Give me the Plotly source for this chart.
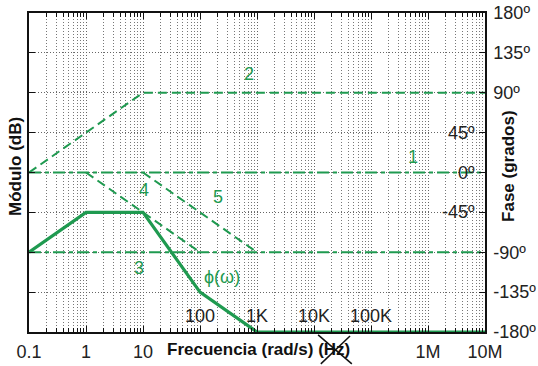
import math
import plotly.graph_objects as go

# ---- data ----
green = "#1f9a50"
line1_x = [0.1, 1e7]; line1_y = [0, 0]
line2_x = [0.1, 10, 1e7]; line2_y = [0, 90, 90]
line3_x = [0.1, 1e7]; line3_y = [-90, -90]
line4_x = [1, 100]; line4_y = [0, -90]
line5_x = [10, 1000]; line5_y = [0, -90]
phi_x = [0.1, 1, 10, 100, 1000, 1e7]
phi_y = [-90, -45, -45, -135, -180, -180]

x_tickvals = [0.1, 1, 10, 100, 1e3, 1e4, 1e5, 1e6, 1e7]
x_ticktext = ["0.1", "1", "10", "", "", "", "", "1M", "10M"]
inner_x_vals = [100, 1e3, 1e4, 1e5]
inner_x_text = ["100", "1K", "10K", "100K"]
y_tickvals = [180, 135, 90, 45, 0, -45, -90, -135, -180]
y_ticktext = ["180º", "135º", "90º", "", "", "", "-90º", "-135º", "-180º"]
inner_y_vals = [45, 0, -45]
inner_y_text = ["45º", "0º", "-45º"]
labels = [("2", 10**2.86, 111), ("1", 10**5.74, 17.5), ("3", 10**0.93, -108), ("4", 10**1.02, -20),
          ("5", 10**2.32, -28), ("ϕ(ω)", 10**2.39, -118)]

minor_vals = [m * 10**e for e in range(-1, 7) for m in range(2, 10)]

fig = go.Figure()
fig.add_trace(go.Scatter(x=line1_x, y=line1_y, mode="lines",
                         line=dict(color=green, width=2, dash="12px,4px,4px,4px")))
fig.add_trace(go.Scatter(x=line2_x, y=line2_y, mode="lines",
                         line=dict(color=green, width=2, dash="9px,5px")))
fig.add_trace(go.Scatter(x=line3_x, y=line3_y, mode="lines",
                         line=dict(color=green, width=2, dash="12px,4px,4px,4px")))
fig.add_trace(go.Scatter(x=line4_x, y=line4_y, mode="lines",
                         line=dict(color=green, width=2, dash="9px,5px")))
fig.add_trace(go.Scatter(x=line5_x, y=line5_y, mode="lines",
                         line=dict(color=green, width=2, dash="9px,5px")))
fig.add_trace(go.Scatter(x=phi_x, y=phi_y, mode="lines",
                         line=dict(color=green, width=3.2)))

ann = []
for v, t in zip(inner_x_vals, inner_x_text):
    ann.append(dict(x=math.log10(v), y=-180, xref="x", yref="y", text=t, showarrow=False,
                    yanchor="bottom", yshift=4, font=dict(size=18, color="#222")))
for v, t in zip(inner_y_vals, inner_y_text):
    ann.append(dict(x=1, y=v, xref="paper", yref="y", text=t, showarrow=False,
                    xanchor="right", xshift=-8, font=dict(size=18, color="#222")))
for t, xv, yv in labels:
    ann.append(dict(x=math.log10(xv), y=yv, xref="x", yref="y", text=t, showarrow=False,
                    font=dict(size=18, color=green)))
ann.append(dict(x=0.504, y=-0.056, xref="paper", yref="paper", text="<b>Frecuencia (rad/s) (Hz)</b>",
                showarrow=False, xanchor="center", yanchor="middle", font=dict(size=17, color="#111")))
ann.append(dict(x=-0.031, y=0.52, xref="paper", yref="paper", text="<b>Módulo (dB)</b>",
                showarrow=False, textangle=-90, xanchor="center", yanchor="middle",
                font=dict(size=17, color="#111")))
ann.append(dict(x=1.050, y=0.52, xref="paper", yref="paper", text="<b>Fase (grados)</b>",
                showarrow=False, textangle=-90, xanchor="center", yanchor="middle",
                font=dict(size=17, color="#111")))

shapes = [
    dict(type="line", xref="paper", yref="paper", x0=0.634, y0=-0.009, x1=0.708, y1=-0.100,
         line=dict(color="#111", width=1.5)),
    dict(type="line", xref="paper", yref="paper", x0=0.704, y0=-0.0125, x1=0.640, y1=-0.100,
         line=dict(color="#111", width=1.5)),
]

fig.update_layout(
    width=538, height=366, showlegend=False,
    margin=dict(l=29, r=53, t=13, b=34, autoexpand=False),
    paper_bgcolor="white", plot_bgcolor="white",
    font=dict(family="Liberation Sans, Arial, sans-serif", size=18, color="#222"),
    annotations=ann, shapes=shapes,
)
fig.update_xaxes(type="log", range=[-1, 7], tickvals=x_tickvals, ticktext=x_ticktext,
                 ticks="inside", ticklen=6, tickcolor="#111", showline=True, linecolor="#111",
                 linewidth=1.5, mirror="ticks", showgrid=True, gridcolor="#666", griddash="1px,2px",
                 gridwidth=1, zeroline=False, ticklabelstandoff=3, automargin=False,
                 minor=dict(tickvals=minor_vals, ticks="inside", ticklen=4, tickcolor="#111",
                            showgrid=True, gridcolor="#777", griddash="1px,2px", gridwidth=1))
fig.update_yaxes(range=[-180, 180], side="right", tickvals=y_tickvals, ticktext=y_ticktext,
                 ticks="inside", ticklen=6, tickcolor="#111", showline=True, linecolor="#111",
                 linewidth=1.5, mirror="ticks", showgrid=True, gridcolor="#666", griddash="1px,2px",
                 gridwidth=1, zeroline=False, automargin=False, ticklabelstandoff=3)

fig.write_html("out.html", config={"displayModeBar": False})
with open("out.html", "r", encoding="utf-8") as f:
    html = f.read()
html = html.replace("<head>", "<head><style>html,body{margin:0;padding:0;overflow:hidden;}</style>", 1)
with open("out.html", "w", encoding="utf-8") as f:
    f.write(html)
